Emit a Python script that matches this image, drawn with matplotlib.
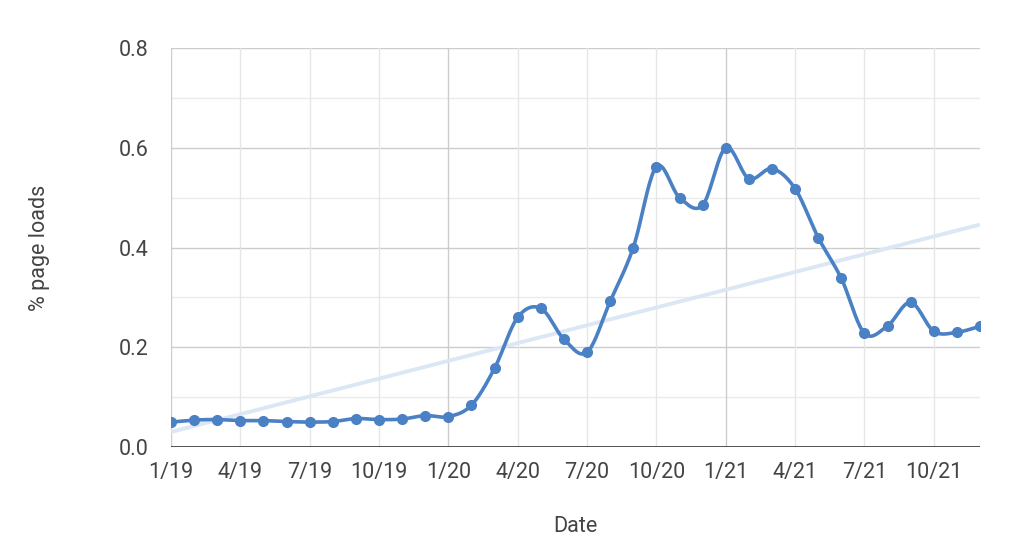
import numpy as np
import matplotlib
matplotlib.use("Agg")
import matplotlib.pyplot as plt

# monthly data, 1/19 .. 12/21
months = np.arange(36)
values = [0.050, 0.054, 0.055, 0.053, 0.053, 0.051, 0.050, 0.051, 0.057, 0.055, 0.056, 0.063,
          0.061, 0.084, 0.158, 0.260, 0.278, 0.216, 0.190, 0.292, 0.400, 0.562, 0.500, 0.485,
          0.600, 0.538, 0.558, 0.518, 0.420, 0.338, 0.228, 0.243, 0.290, 0.232, 0.230, 0.242]
tick_pos = np.arange(0, 36, 3)
tick_labels = ["1/19", "4/19", "7/19", "10/19", "1/20", "4/20", "7/20", "10/20",
               "1/21", "4/21", "7/21", "10/21"]
y_ticks = [0.0, 0.2, 0.4, 0.6, 0.8]

LINE = "#4a80c4"
TREND = "#dce7f5"
TXT = "#444444"


def smooth(x, y, n=20, k=0.5):
    # cardinal spline through the points (like curveType 'function')
    x = np.asarray(x, float); y = np.asarray(y, float)
    xs, ys = [], []
    for i in range(len(x) - 1):
        x0, x1 = x[max(i - 1, 0)], x[min(i + 2, len(x) - 1)]
        y0, y3 = y[max(i - 1, 0)], y[min(i + 2, len(y) - 1)]
        m1 = k * (y[i + 1] - y0) / (x[i + 1] - x0) * (x[i + 1] - x[i])
        m2 = k * (y3 - y[i]) / (x1 - x[i]) * (x[i + 1] - x[i])
        t = np.linspace(0, 1, n, endpoint=False)
        h00 = 2 * t**3 - 3 * t**2 + 1
        h10 = t**3 - 2 * t**2 + t
        h01 = -2 * t**3 + 3 * t**2
        h11 = t**3 - t**2
        xs.append(x[i] + t * (x[i + 1] - x[i]))
        ys.append(h00 * y[i] + h10 * 2 * m1 + h01 * y[i + 1] + h11 * 2 * m2)
    xs.append([x[-1]]); ys.append([y[-1]])
    return np.concatenate(xs), np.concatenate(ys)


plt.rcParams['font.family'] = ['Roboto', 'DejaVu Sans']
fig = plt.figure(figsize=(10.24, 5.51), dpi=100)
ax = fig.add_axes([171 / 1024, 104 / 551, 809 / 1024, 399 / 551])

# grid
for yv in np.arange(0.1, 0.81, 0.2):
    ax.axhline(yv, color="#ebebeb", lw=1, zorder=0)
for yv in y_ticks[1:]:
    ax.axhline(yv, color="#cccccc", lw=1, zorder=0)
for xv in tick_pos:
    c = "#cccccc" if xv % 12 == 0 else "#e6e6e6"
    ax.axvline(xv, color=c, lw=1, zorder=0)
ax.axhline(0, color="#333333", lw=1.2, zorder=1)

# trendline (least squares)
coef = np.polyfit(months, values, 1)
ax.plot([months[0], months[-1]], np.polyval(coef, [months[0], months[-1]]),
        color=TREND, lw=2.8, zorder=2, solid_capstyle="butt")

sx, sy = smooth(months, values)
ax.plot(sx, sy, color=LINE, lw=2.6, zorder=3)
ax.plot(months, values, "o", color=LINE, ms=7, zorder=4)

ax.set_xlim(0, 35)
ax.set_ylim(0, 0.8)
ax.set_xticks(tick_pos)
ax.set_xticklabels(tick_labels)
ax.set_yticks(y_ticks)
ax.set_yticklabels([f"{v:.1f}" for v in y_ticks])
ax.tick_params(length=0, labelsize=15.5, labelcolor=TXT, pad=10.5)
ax.tick_params(axis="y", pad=16)
for s in ax.spines.values():
    s.set_visible(False)

ax.set_xlabel("Date", fontsize=15.5, color=TXT, va="center")
ax.xaxis.set_label_coords(0.5, (447 - 527) / 399)
ax.set_ylabel("% page loads", fontsize=15.5, color=TXT, va="center")
ax.yaxis.set_label_coords((40 - 171) / 809, 0.5)

fig.savefig("out.png", dpi=100)
